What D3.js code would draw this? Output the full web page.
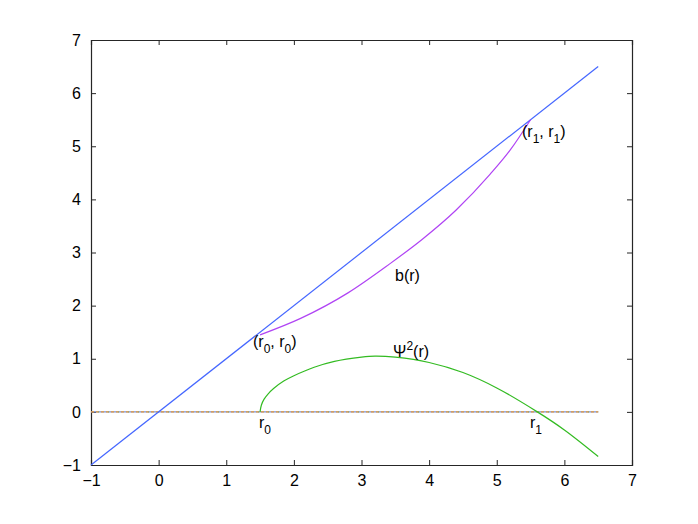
<!DOCTYPE html>
<html>
<head>
<meta charset="utf-8">
<script src="https://cdn.jsdelivr.net/npm/d3@7"></script>
<style>
  body { margin: 0; background: #fff; }
  text { font-family: "Liberation Sans", Arial, Helvetica, sans-serif; }
  .axis text { font-size: 16px; fill: #000; }
  .axis path, .axis line { stroke: #262626; }
</style>
</head>
<body>
<div id="chart"></div>
<script>
// data
var diagX = [-1, 6.5]
var zeroX = [-1, 6.5]
var bX = [1.5, 2.1, 2.8, 3.4, 3.9, 4.4, 4.9, 5.2, 5.5]
var bY = [1.45, 1.76, 2.24, 2.77, 3.25, 3.8, 4.47, 4.93, 5.5]
var psiX = [1.5, 1.52, 1.56, 1.62, 1.7, 1.85, 2.0, 2.3, 2.6, 3.0, 3.2, 3.5, 4.0, 4.5, 5.0, 5.6, 6.0, 6.5]
var psiY = [0, 0.13, 0.24, 0.34, 0.44, 0.58, 0.68, 0.84, 0.95, 1.03, 1.05, 1.03, 0.93, 0.74, 0.45, 0, -0.34, -0.84]
var xTicks = [-1, 0, 1, 2, 3, 4, 5, 6, 7]
var yTicks = [-1, 0, 1, 2, 3, 4, 5, 6, 7]

var width = 698
var height = 524
var margin = {top: 40, right: 66, bottom: 59, left: 91}
var innerWidth = width - margin.left - margin.right
var innerHeight = height - margin.top - margin.bottom

var svg = d3.select("#chart").append("svg")
    .attr("width", width)
    .attr("height", height)

var g = svg.append("g")
    .attr("transform", `translate(${margin.left}, ${margin.top})`)

var xScale = d3.scaleLinear().domain([-1, 7]).range([0, innerWidth])
var yScale = d3.scaleLinear().domain([-1, 7]).range([innerHeight, 0])

// axes, ticks pointing inward on all four sides
var minus = d => d < 0 ? "\u2212" + Math.abs(d) : d
var xAxis = d3.axisBottom(xScale).tickValues(xTicks).tickSize(-5).tickPadding(10).tickFormat(minus)
var yAxis = d3.axisLeft(yScale).tickValues(yTicks).tickSize(-5).tickPadding(10).tickFormat(minus)

g.append("g").attr("class", "axis")
    .attr("transform", `translate(0, ${innerHeight})`)
    .call(xAxis)
g.append("g").attr("class", "axis").call(yAxis)
g.append("g").attr("class", "axis")
    .call(d3.axisTop(xScale).tickValues(xTicks).tickSize(-5).tickFormat(""))
g.append("g").attr("class", "axis")
    .attr("transform", `translate(${innerWidth}, 0)`)
    .call(d3.axisRight(yScale).tickValues(yTicks).tickSize(-5).tickFormat(""))
g.selectAll(".axis .domain").attr("stroke-width", 1.2)

var line = d3.line().x(d => xScale(d[0])).y(d => yScale(d[1]))
var smooth = d3.line().x(d => xScale(d[0])).y(d => yScale(d[1])).curve(d3.curveMonotoneX)
var smoothPsi = d3.line().x(d => xScale(d[0])).y(d => yScale(d[1])).curve(d3.curveCatmullRom.alpha(0.5))

// zero line drawn as overlapping dashed lines
var zero = zeroX.map(x => [x, 0])
g.append("path").attr("d", line(zero)).attr("fill", "none")
    .attr("stroke", "#7a90d0").attr("stroke-width", 1.1)
g.append("path").attr("d", line(zero)).attr("fill", "none")
    .attr("stroke", "#e59a3c").attr("stroke-width", 1.1).attr("stroke-dasharray", "3,2")
g.append("path").attr("d", line(zero)).attr("fill", "none")
    .attr("stroke", "#9aaa70").attr("stroke-width", 1.1).attr("stroke-dasharray", "1,9")
    .attr("stroke-dashoffset", 3)

// y = r
g.append("path").attr("d", line(diagX.map(x => [x, x]))).attr("fill", "none")
    .attr("stroke", "#4466ff").attr("stroke-width", 1.2)

// b(r)
g.append("path").attr("d", smooth(bX.map((x, i) => [x, bY[i]]))).attr("fill", "none")
    .attr("stroke", "#b044f4").attr("stroke-width", 1.2)

// Psi^2(r)
g.append("path").attr("d", smoothPsi(psiX.map((x, i) => [x, psiY[i]]))).attr("fill", "none")
    .attr("stroke", "#33bb22").attr("stroke-width", 1.2)

// annotations
function label(x, y, parts) {
    var t = svg.append("text").attr("x", x).attr("y", y).attr("font-size", 16)
    parts.forEach(p => {
        var s = t.append("tspan").text(p[0])
        if (p[1] == "sub") s.attr("font-size", 12).attr("dy", 6)
        else if (p[1] == "sup") s.attr("font-size", 12).attr("dy", -7)
        else if (p[1] == "back") s.attr("dy", p[2])
    })
}
label(253, 347, [["(r"], ["0", "sub"], [", r", "back", -6], ["0", "sub"], [")", "back", -6]])
label(522, 137, [["(r"], ["1", "sub"], [", r", "back", -6], ["1", "sub"], [")", "back", -6]])
label(395, 281, [["b(r)"]])
label(393, 357, [["\u03A8"], ["2", "sup"], ["(r)", "back", 7]])
label(259, 428, [["r"], ["0", "sub"]])
label(530, 428, [["r"], ["1", "sub"]])
</script>
</body>
</html>
